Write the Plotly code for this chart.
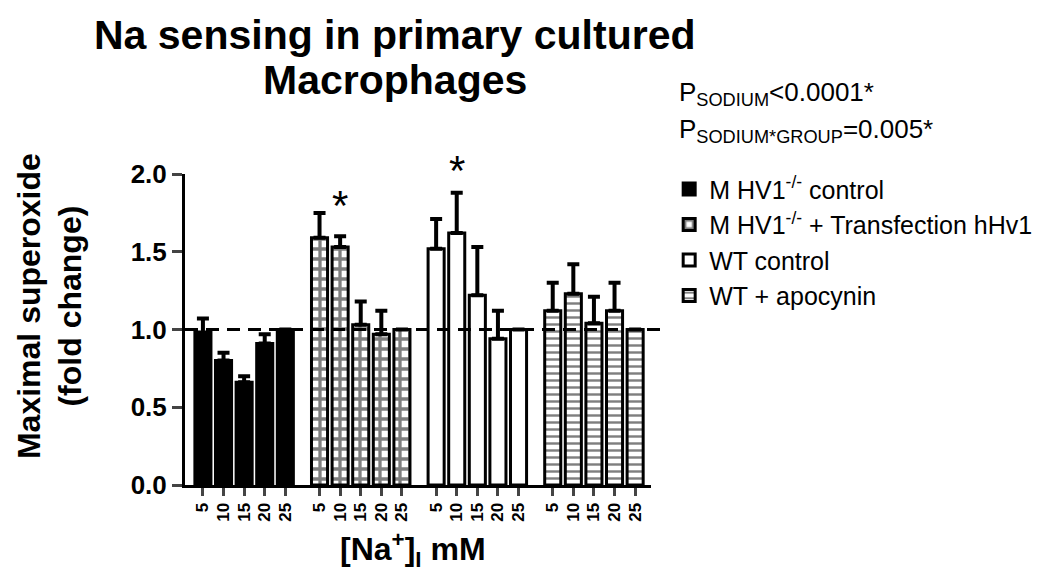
import plotly.graph_objects as go

# data
sodium = ["5", "10", "15", "20", "25"]
groups = ["M HV1<sup>-/-</sup> control",
          "M HV1<sup>-/-</sup> + Transfection hHv1",
          "WT control",
          "WT + apocynin"]
mean_ko = [0.98, 0.80, 0.66, 0.91, 1.00]
err_ko = [0.09, 0.05, 0.04, 0.06, 0.0]
mean_tr = [1.59, 1.53, 1.03, 0.97, 1.00]
err_tr = [0.16, 0.07, 0.15, 0.15, 0.0]
mean_wt = [1.52, 1.62, 1.22, 0.94, 1.00]
err_wt = [0.19, 0.26, 0.31, 0.18, 0.0]
mean_apo = [1.12, 1.23, 1.04, 1.12, 1.00]
err_apo = [0.18, 0.19, 0.17, 0.18, 0.0]
star_group = [1, 2]
star_index = [1, 1]
star_y = [1.80, 2.02]

means = [mean_ko, mean_tr, mean_wt, mean_apo]
errs = [err_ko, err_tr, err_wt, err_apo]

FONT = "Liberation Sans, Arial, sans-serif"
STEP = 5.66  # group spacing in bar slots
YMAX = 2.0

fills = [
    dict(color="black"),
    dict(color="white", pattern=dict(shape="+", fgcolor="black", bgcolor="white", size=10, solidity=0.55)),
    dict(color="white"),
    dict(color="white", pattern=dict(shape="-", fgcolor="black", bgcolor="white", size=7, solidity=0.35)),
]

fig = go.Figure()
tickvals, ticktext = [], []
for g, name in enumerate(groups):
    xs = [g * STEP + i for i in range(len(sodium))]
    tickvals += xs
    ticktext += sodium
    fig.add_trace(go.Bar(
        x=xs, y=means[g], name=name, width=0.78, legendgroup=str(g),
        marker=dict(line=dict(color="black", width=3), **fills[g]),
        error_y=dict(type="data", array=errs[g], arrayminus=[0] * 5, symmetric=False,
                     color="black", thickness=4, width=6),
    ))

# reference line at 1.0
fig.add_shape(type="line", xref="paper", yref="y", x0=0, x1=1.025, y0=1, y1=1,
              line=dict(color="black", width=3, dash="13px,8px"), layer="above")

for g, i, sy in zip(star_group, star_index, star_y):
    fig.add_annotation(x=g * STEP + i, xref="x", yref="paper", y=sy / YMAX, text="*",
                       showarrow=False, yanchor="middle",
                       font=dict(family=FONT, size=42, color="black"))

fig.add_annotation(xref="paper", yref="paper", x=1.055, y=1.26, xanchor="left", yanchor="middle",
                   showarrow=False, text="P<sub>SODIUM</sub><0.0001*",
                   font=dict(family=FONT, size=26, color="black"))
fig.add_annotation(xref="paper", yref="paper", x=1.055, y=1.141, xanchor="left", yanchor="middle",
                   showarrow=False, text="P<sub>SODIUM*GROUP</sub>=0.005*",
                   font=dict(family=FONT, size=26, color="black"))

# title, two lines placed separately for tighter spacing
fig.add_annotation(xref="paper", yref="paper", x=0.45, y=1.447, xanchor="center", yanchor="middle",
                   showarrow=False, text="<b>Na sensing in primary cultured</b>",
                   font=dict(family=FONT, size=41, color="black"))
fig.add_annotation(xref="paper", yref="paper", x=0.45, y=1.303, xanchor="center", yanchor="middle",
                   showarrow=False, text="<b>Macrophages</b>",
                   font=dict(family=FONT, size=41, color="black"))

# axis titles
fig.add_annotation(xref="paper", yref="paper", x=-0.29, y=0.575, xanchor="center", yanchor="middle",
                   showarrow=False, textangle=-90, text="<b>Maximal superoxide<br>(fold change)</b>",
                   font=dict(family=FONT, size=32, color="black"))
fig.add_annotation(xref="paper", yref="paper", x=0.489, y=-0.206, xanchor="center", yanchor="middle",
                   showarrow=False, text="<b>[Na<sup>+</sup>]<sub>I</sub> mM</b>",
                   font=dict(family=FONT, size=32, color="black"))

fig.update_layout(
    width=1050, height=574,
    margin=dict(l=177, r=407, t=166, b=97),
    plot_bgcolor="white", paper_bgcolor="white",
    barmode="overlay", showlegend=True,
    legend=dict(x=1.039, y=1.025, xanchor="left", yanchor="top", tracegroupgap=0,
                font=dict(family=FONT, size=25, color="black"), bgcolor="rgba(0,0,0,0)"),
    font=dict(family=FONT, color="black"),
)
fig.update_xaxes(range=[-0.87, 21.75], tickvals=tickvals, ticktext=[f"<b>{t}</b>" for t in ticktext],
                 tickangle=-90, tickfont=dict(size=17), ticks="outside", ticklen=8, tickwidth=3,
                 showline=True, linecolor="black", linewidth=3, showgrid=False, zeroline=False)
fig.update_yaxes(range=[0, YMAX], tickvals=[0, 0.5, 1.0, 1.5, 2.0],
                 ticktext=["<b>0.0</b>", "<b>0.5</b>", "<b>1.0</b>", "<b>1.5</b>", "<b>2.0</b>"],
                 tickfont=dict(size=26), ticks="outside", ticklen=10, tickwidth=3,
                 showline=True, linecolor="black", linewidth=3, showgrid=False, zeroline=False)

fig.write_html("out.html")
